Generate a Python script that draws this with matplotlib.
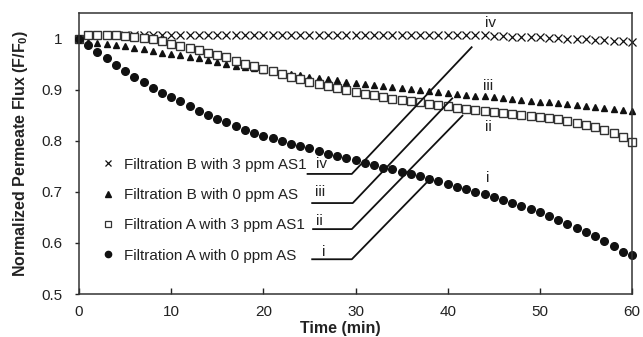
import numpy as np
import matplotlib
matplotlib.use("Agg")
import matplotlib.pyplot as plt
from matplotlib.lines import Line2D

plt.rcParams['font.family'] = ['Liberation Sans', 'DejaVu Sans']
plt.rcParams['mathtext.default'] = 'regular'

# time (min), one reading per minute
time_min = np.arange(0, 61)

flux_A_0ppm = [1.000, 0.988, 0.974, 0.961, 0.948, 0.937, 0.925, 0.914, 0.903, 0.894,
               0.885, 0.877, 0.867, 0.859, 0.851, 0.843, 0.837, 0.829, 0.821, 0.815,
               0.810, 0.805, 0.800, 0.794, 0.790, 0.785, 0.780, 0.775, 0.771, 0.767,
               0.762, 0.757, 0.752, 0.747, 0.744, 0.739, 0.735, 0.731, 0.726, 0.721,
               0.716, 0.710, 0.705, 0.700, 0.695, 0.690, 0.684, 0.679, 0.673, 0.667,
               0.660, 0.653, 0.645, 0.637, 0.630, 0.622, 0.613, 0.604, 0.593, 0.583,
               0.576]
flux_A_3ppm = [1.000, 1.006, 1.006, 1.006, 1.006, 1.005, 1.004, 1.002, 0.999, 0.995,
               0.990, 0.986, 0.981, 0.977, 0.972, 0.968, 0.963, 0.957, 0.951, 0.946,
               0.941, 0.936, 0.930, 0.925, 0.920, 0.915, 0.911, 0.907, 0.903, 0.899,
               0.895, 0.892, 0.889, 0.886, 0.882, 0.879, 0.877, 0.875, 0.872, 0.870,
               0.867, 0.865, 0.863, 0.861, 0.859, 0.857, 0.855, 0.853, 0.851, 0.849,
               0.847, 0.845, 0.842, 0.839, 0.835, 0.831, 0.826, 0.821, 0.815, 0.807,
               0.797]
flux_B_0ppm = [1.000, 0.994, 0.992, 0.990, 0.988, 0.985, 0.982, 0.979, 0.976, 0.972,
               0.969, 0.967, 0.964, 0.961, 0.958, 0.955, 0.951, 0.947, 0.944, 0.942,
               0.939, 0.936, 0.933, 0.930, 0.928, 0.925, 0.923, 0.920, 0.918, 0.915,
               0.913, 0.911, 0.909, 0.907, 0.905, 0.903, 0.901, 0.899, 0.898, 0.896,
               0.894, 0.892, 0.890, 0.888, 0.887, 0.885, 0.883, 0.881, 0.880, 0.878,
               0.876, 0.875, 0.873, 0.871, 0.870, 0.868, 0.866, 0.865, 0.863, 0.861,
               0.859]
flux_B_3ppm = [1.000, 1.006, 1.006, 1.006, 1.006, 1.006, 1.006, 1.006, 1.006, 1.006,
               1.006, 1.006, 1.006, 1.006, 1.006, 1.006, 1.006, 1.006, 1.006, 1.006,
               1.006, 1.006, 1.006, 1.006, 1.006, 1.006, 1.006, 1.006, 1.006, 1.006,
               1.006, 1.006, 1.006, 1.006, 1.006, 1.006, 1.006, 1.006, 1.006, 1.006,
               1.006, 1.006, 1.006, 1.006, 1.006, 1.005, 1.005, 1.004, 1.004, 1.003,
               1.003, 1.002, 1.001, 1.000, 0.999, 0.999, 0.998, 0.997, 0.996, 0.995,
               0.994]

legend_labels = ['Filtration B with 3 ppm AS1', 'Filtration B with 0 ppm AS',
                 'Filtration A with 3 ppm AS1', 'Filtration A with 0 ppm AS']
roman = ['iv', 'iii', 'ii', 'i']

# leader lines: start of horizontal, knee, end of diagonal (data coords)
leader_x = [[24.8, 29.6, 42.6], [25.3, 29.7, 40.5], [25.4, 29.6, 41.6], [25.3, 29.6, 38.3]]
leader_y = [[0.735, 0.735, 0.983], [0.678, 0.678, 0.883], [0.627, 0.627, 0.849], [0.568, 0.568, 0.729]]
inner_label_x = [26.3, 26.2, 26.1, 26.6]
inner_label_y = [0.747, 0.692, 0.635, 0.574]
outer_label_x = [44.6, 44.4, 44.4, 44.3]
outer_label_y = [1.031, 0.908, 0.827, 0.727]

xticks = [0, 10, 20, 30, 40, 50, 60]
yticks = [0.5, 0.6, 0.7, 0.8, 0.9, 1.0]
ytick_labels = ['0.5', '0.6', '0.7', '0.8', '0.9', '1']

fig = plt.figure(figsize=(6.43, 3.37), dpi=100)
ax = fig.add_axes([79 / 643, 1 - 294 / 337, 553 / 643, 281 / 337])

k = '#111111'
ax.plot(time_min, flux_B_3ppm, 'x', color=k, ms=5.5, mew=0.9, ls='none', clip_on=False)
ax.plot(time_min, flux_B_0ppm, '^', color=k, ms=5, ls='none', clip_on=False)
ax.plot(time_min, flux_A_3ppm, 's', mfc='white', mec='#333333', ms=6, mew=1.0, ls='none', clip_on=False)
ax.plot(time_min, flux_A_0ppm, 'o', color=k, ms=5.5, ls='none', clip_on=False)

for lx, ly in zip(leader_x, leader_y):
    ax.plot(lx, ly, color=k, lw=1.3)
for r, x, y in zip(roman, inner_label_x, inner_label_y):
    ax.text(x, y, r, fontsize=11, ha='center', va='baseline', color='#222222')
for r, x, y in zip(roman, outer_label_x, outer_label_y):
    ax.text(x, y, r, fontsize=11, ha='center', va='center', color='#222222')

handles = [Line2D([], [], marker='x', color=k, ms=5, mew=0.9, ls='none'),
           Line2D([], [], marker='^', color=k, ms=4.5, ls='none'),
           Line2D([], [], marker='s', mfc='white', mec='#333333', ms=5, mew=0.9, ls='none'),
           Line2D([], [], marker='o', color=k, ms=4.5, ls='none')]
ax.legend(handles, legend_labels, loc='upper left', bbox_to_anchor=(0.0387, 0.485),
          frameon=False, borderpad=0, borderaxespad=0, handlelength=1.0,
          handletextpad=0.55, labelspacing=1.07, fontsize=11, labelcolor='#222222')

ax.set_xlim(0, 60)
ax.set_ylim(0.5, 1.05)
ax.set_xticks(xticks)
ax.set_xticklabels([str(v) for v in xticks])
ax.set_yticks(yticks)
ax.set_yticklabels(ytick_labels)
ax.tick_params(axis='x', direction='in', length=4, width=1, pad=8, labelsize=11, colors='#222222')
ax.tick_params(axis='y', direction='out', length=3, width=1, pad=9, labelsize=11, colors='#222222')
for s in ax.spines.values():
    s.set_color('#333333')
    s.set_linewidth(1.1)

ax.set_xlabel('Time (min)', fontsize=11.5, fontweight='bold', color='#222222')
ax.xaxis.set_label_coords(0.472, -0.097)
ax.set_ylabel('Normalized Permeate Flux (F/F$_0$)', fontsize=11.5, fontweight='bold', color='#222222')
ax.yaxis.set_label_coords(-0.088, 0.50)

fig.savefig('out.png', dpi=100)
